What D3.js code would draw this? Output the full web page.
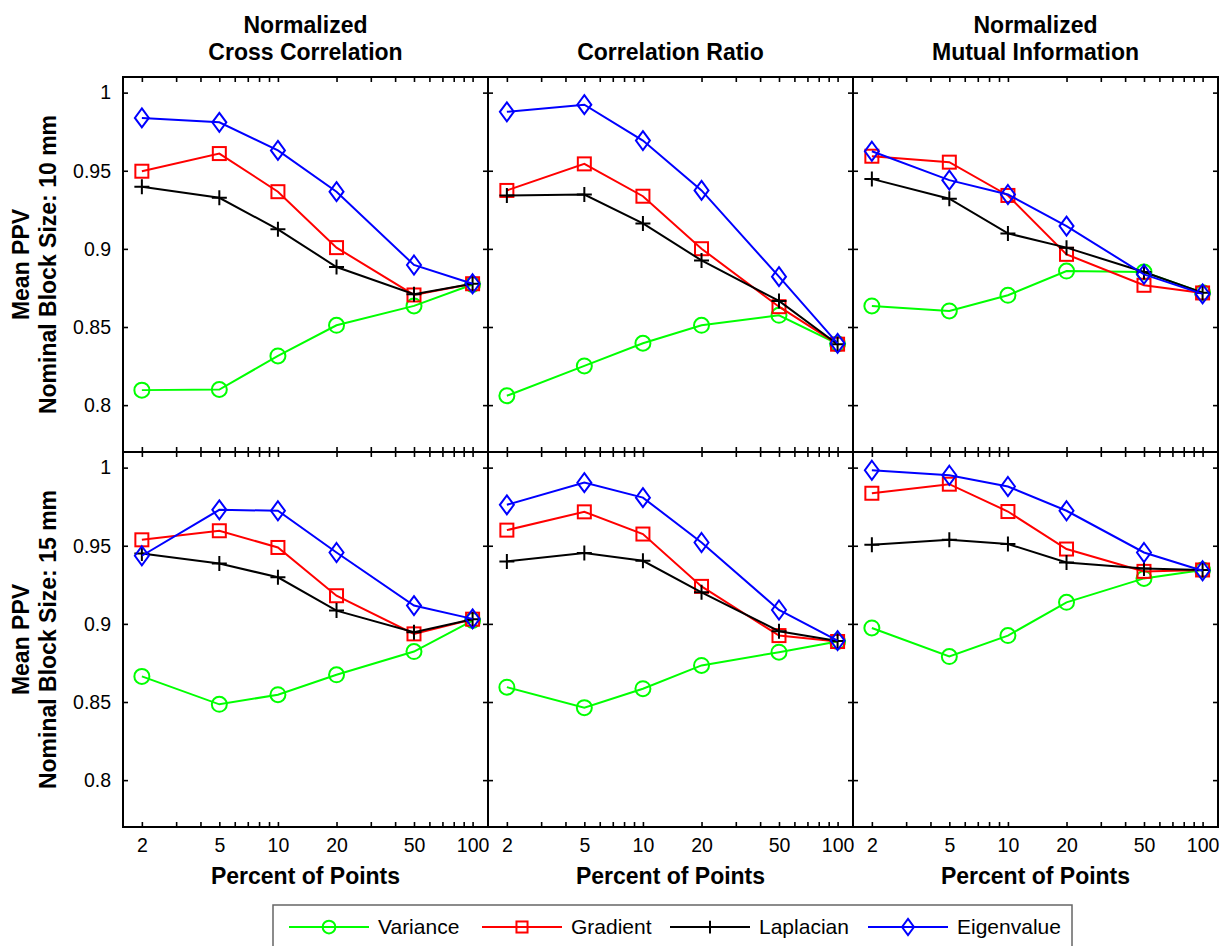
<!DOCTYPE html>
<html>
<head>
<meta charset="utf-8">
<script src="https://cdnjs.cloudflare.com/ajax/libs/d3/7.8.5/d3.min.js"></script>
<style>
  body { margin: 0; background: #fff; }
  text { font-family: "Liberation Sans", Arial, Helvetica, sans-serif; fill: #000; }
</style>
</head>
<body>
<div id="chart"></div>
<script>
// x values (percent of points) shared by every panel
const percents = [2, 5, 10, 20, 50, 100];

const seriesNames = ["Variance", "Gradient", "Laplacian", "Eigenvalue"];
const seriesColors = ["#00ff00", "#ff0000", "#000000", "#0000ff"];
const seriesMarkers = ["circle", "square", "plus", "diamond"];

const columnTitles = [
    ["Normalized", "Cross Correlation"],
    ["Correlation Ratio"],
    ["Normalized", "Mutual Information"]
];
const rowLabels = ["Nominal Block Size: 10 mm", "Nominal Block Size: 15 mm"];

const xTickLabels = [2, 5, 10, 20, 50, 100];
const yTickLabels = [0.8, 0.85, 0.9, 0.95, 1];

// rows: Variance, Gradient, Laplacian, Eigenvalue
const ncc10 = [
    [0.8096, 0.8100, 0.8315, 0.8511, 0.8635, 0.8772],
    [0.9497, 0.9610, 0.9366, 0.9008, 0.8705, 0.8777],
    [0.9397, 0.9327, 0.9125, 0.8884, 0.8710, 0.8777],
    [0.9838, 0.9810, 0.9630, 0.9366, 0.8897, 0.8777]
];
const cr10 = [
    [0.8060, 0.8251, 0.8396, 0.8511, 0.8575, 0.8392],
    [0.9374, 0.9544, 0.9337, 0.9001, 0.8630, 0.8390],
    [0.9342, 0.9348, 0.9163, 0.8926, 0.8667, 0.8390],
    [0.9877, 0.9923, 0.9693, 0.9374, 0.8822, 0.8395]
];
const nmi10 = [
    [0.8635, 0.8603, 0.8703, 0.8858, 0.8852, 0.8720],
    [0.9593, 0.9555, 0.9342, 0.8965, 0.8767, 0.8718],
    [0.9448, 0.9321, 0.9099, 0.9008, 0.8852, 0.8720],
    [0.9625, 0.9440, 0.9348, 0.9146, 0.8837, 0.8712]
];
const ncc15 = [
    [0.8664, 0.8485, 0.8547, 0.8674, 0.8823, 0.9021],
    [0.9538, 0.9596, 0.9489, 0.9180, 0.8936, 0.9030],
    [0.9451, 0.9387, 0.9298, 0.9085, 0.8947, 0.9030],
    [0.9436, 0.9730, 0.9724, 0.9457, 0.9117, 0.9032]
];
const cr15 = [
    [0.8595, 0.8464, 0.8585, 0.8734, 0.8819, 0.8887],
    [0.9600, 0.9717, 0.9575, 0.9240, 0.8925, 0.8887],
    [0.9400, 0.9453, 0.9404, 0.9202, 0.8953, 0.8890],
    [0.9762, 0.9904, 0.9808, 0.9521, 0.9089, 0.8893]
];
const nmi15 = [
    [0.8974, 0.8791, 0.8925, 0.9138, 0.9291, 0.9345],
    [0.9836, 0.9894, 0.9719, 0.9479, 0.9336, 0.9345],
    [0.9506, 0.9538, 0.9511, 0.9393, 0.9355, 0.9345],
    [0.9983, 0.9951, 0.9879, 0.9724, 0.9457, 0.9340]
];

const panels = [[ncc10, cr10, nmi10], [ncc15, cr15, nmi15]];

var W = 1225, H = 946;
var marginLeft = 123, marginTop = 77, pw = 365, ph = 375;

var svg = d3.select("#chart").append("svg")
    .attr("width", W)
    .attr("height", H);

var x = d3.scaleLog().domain([1.6, 120]).range([0, pw]);
var y = d3.scaleLinear().domain([0.77, 1.01]).range([ph, 0]);

// every minor tick of the log axis between 2 and 100
var xTicks = [2, 3, 4, 5, 6, 7, 8, 9, 10, 20, 30, 40, 50, 60, 70, 80, 90, 100];

function drawMarker(g, type, cx, cy, color, k) {
    if (type == "circle") {
        g.append("circle").attr("cx", cx).attr("cy", cy).attr("r", 7.5 * k)
            .attr("fill", "none").attr("stroke", color).attr("stroke-width", 2);
    } else if (type == "square") {
        var h = 6.5 * k;
        g.append("rect").attr("x", cx - h).attr("y", cy - h).attr("width", 2 * h).attr("height", 2 * h)
            .attr("fill", "none").attr("stroke", color).attr("stroke-width", 2);
    } else if (type == "diamond") {
        var a = 7 * k, b = 9.5 * k;
        g.append("path")
            .attr("d", "M" + cx + "," + (cy - b) + "L" + (cx + a) + "," + cy + "L" + cx + "," + (cy + b) + "L" + (cx - a) + "," + cy + "Z")
            .attr("fill", "none").attr("stroke", color).attr("stroke-width", 2);
    } else if (type == "plus") {
        var p = 7.5 * k;
        g.append("path")
            .attr("d", "M" + (cx - p) + "," + cy + "H" + (cx + p) + "M" + cx + "," + (cy - p) + "V" + (cy + p))
            .attr("fill", "none").attr("stroke", color).attr("stroke-width", 2);
    }
}

var line = d3.line()
    .x((d, i) => x(percents[i]))
    .y(d => y(d));

panels.forEach(function (row, r) {
    row.forEach(function (data, c) {
        var g = svg.append("g")
            .attr("transform", "translate(" + (marginLeft + c * pw) + "," + (marginTop + r * ph) + ")");

        // ticks on all four sides, pointing inwards
        var bottomAxis = d3.axisBottom(x).tickValues(xTicks).tickSize(-5).tickPadding(11)
            .tickFormat(d => (r == 1 && xTickLabels.indexOf(d) >= 0) ? d : "");
        var topAxis = d3.axisTop(x).tickValues(xTicks).tickSize(-5).tickFormat("");
        var leftAxis = d3.axisLeft(y).tickValues(yTickLabels).tickSize(-5).tickPadding(12)
            .tickFormat(d => c == 0 ? String(d) : "");
        var rightAxis = d3.axisRight(y).tickValues(yTickLabels).tickSize(-5).tickFormat("");

        var ax = [
            g.append("g").attr("transform", "translate(0," + ph + ")").call(bottomAxis),
            g.append("g").call(topAxis),
            g.append("g").call(leftAxis),
            g.append("g").attr("transform", "translate(" + pw + ",0)").call(rightAxis)
        ];
        ax.forEach(a => {
            a.select(".domain").remove();
            a.selectAll(".tick line").attr("stroke", "#000").attr("stroke-width", 1.6);
            a.selectAll(".tick text").style("font-size", "19.5px")
                .style("font-family", '"Liberation Sans", Arial, sans-serif').attr("fill", "#000");
        });

        // series
        data.forEach(function (vals, s) {
            g.append("path")
                .datum(vals)
                .attr("d", line)
                .attr("fill", "none")
                .attr("stroke", seriesColors[s])
                .attr("stroke-width", 2);
            vals.forEach(function (v, i) {
                drawMarker(g, seriesMarkers[s], x(percents[i]), y(v), seriesColors[s], 1);
            });
        });

        g.append("rect")
            .attr("width", pw).attr("height", ph)
            .attr("fill", "none").attr("stroke", "#000").attr("stroke-width", 2);

        // column titles
        if (r == 0) {
            var lines = columnTitles[c];
            lines.forEach(function (t, k) {
                svg.append("text")
                    .attr("x", marginLeft + c * pw + pw / 2)
                    .attr("y", lines.length == 1 ? 60 : 33 + k * 27)
                    .attr("text-anchor", "middle")
                    .style("font-size", "23px").style("font-weight", "bold")
                    .text(t);
            });
        }
        if (r == 1) {
            svg.append("text")
                .attr("x", marginLeft + c * pw + pw / 2)
                .attr("y", 884)
                .attr("text-anchor", "middle")
                .style("font-size", "23px").style("font-weight", "bold")
                .text("Percent of Points");
        }
    });

    // row labels
    var cy = marginTop + r * ph + ph / 2;
    [["Mean PPV", 29], [rowLabels[r], 56]].forEach(function (d) {
        svg.append("text")
            .attr("transform", "translate(" + d[1] + "," + cy + ") rotate(-90)")
            .attr("text-anchor", "middle")
            .style("font-size", "23px").style("font-weight", "bold")
            .text(d[0]);
    });
});

// legend
var legend = svg.append("g");
legend.append("rect")
    .attr("x", 273).attr("y", 905).attr("width", 799).attr("height", 50)
    .attr("fill", "#fff").attr("stroke", "#666").attr("stroke-width", 1.5);

var legendX = [289, 482, 670, 868];
seriesNames.forEach(function (name, s) {
    var lx = legendX[s], ly = 927;
    legend.append("line")
        .attr("x1", lx).attr("x2", lx + 80).attr("y1", ly).attr("y2", ly)
        .attr("stroke", seriesColors[s]).attr("stroke-width", 2);
    drawMarker(legend, seriesMarkers[s], lx + 40, ly, seriesColors[s], 0.85);
    legend.append("text")
        .attr("x", lx + 89).attr("y", ly).attr("dy", "0.35em")
        .style("font-size", "21px")
        .text(name);
});
</script>
</body>
</html>
